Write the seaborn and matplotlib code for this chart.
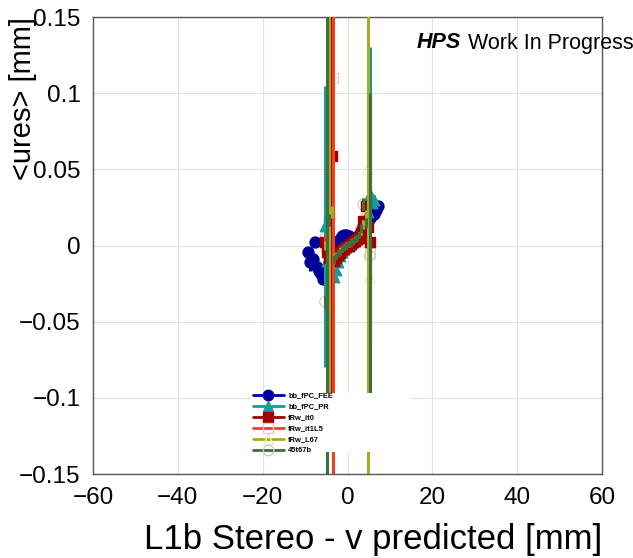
import matplotlib
matplotlib.use("Agg")
import matplotlib.pyplot as plt
from matplotlib.lines import Line2D
from matplotlib.patches import Rectangle
from matplotlib.ticker import MultipleLocator, FuncFormatter
import pandas as pd
import seaborn as sns

# ---- data: profile of <ures> vs predicted v, one entry per bin ----
series_names = ["bb_fPC_FEE", "bb_fPC_PR", "fRw_it0", "fRw_it1L5", "fRw_L67", "45t67b"]

fee_x = [-9.25, -8.75, -8.25, -7.75, -7.25, -6.75, -6.25, -5.75, -5.25, -4.75, -4.25,
         -3.75, -3.25, -2.75, -2.25, -1.75, -1.25, -0.75, -0.25, 0.25, 0.75, 1.25,
         1.75, 2.25, 2.75, 3.25, 3.75, 4.25, 4.75, 5.25, 5.75, 6.25, 6.75, 7.25]
fee_y = [-0.004, -0.011, -0.009, 0.002, -0.014, -0.017, -0.019, -0.022, -0.020, -0.016,
         -0.011, -0.007, -0.004, -0.001, 0.002, 0.004, 0.006, 0.007, 0.007, 0.006, 0.005,
         0.004, 0.004, 0.005, 0.007, 0.009, 0.012, 0.014, 0.016, 0.018, 0.020, 0.021,
         0.023, 0.026]
fee_err = [0.002, 0.006, 0.002, 0.002, 0.002, 0.002, 0.002, 0.003, 0.002, 0.002, 0.002,
           0.002, 0.002, 0.002, 0.002, 0.002, 0.002, 0.002, 0.002, 0.002, 0.002, 0.002,
           0.002, 0.002, 0.002, 0.002, 0.002, 0.002, 0.002, 0.002, 0.002, 0.002, 0.002,
           0.003]

pr_x = [-5.25, -4.75, -4.25, -3.75, -3.25, -2.75, -2.25, -1.75, -1.25, -0.75, -0.25,
        0.25, 0.75, 1.25, 1.75, 2.25, 2.75, 3.25, 3.75, 4.25, 4.75, 5.25, 5.75, 6.25]
pr_y = [0.0125, -0.010, -0.015, -0.019, -0.021, -0.016, -0.011, -0.007, -0.004, -0.002,
        -0.001, 0.000, 0.001, 0.002, 0.003, 0.004, 0.006, 0.009, 0.013, 0.017, 0.022,
        0.034, 0.028, 0.030]
pr_err = [0.0925, 0.003, 0.003, 0.003, 0.003, 0.002, 0.002, 0.002, 0.002, 0.002, 0.002,
          0.002, 0.002, 0.002, 0.002, 0.002, 0.002, 0.002, 0.003, 0.003, 0.003, 0.096,
          0.003, 0.003]

it0_x = [-5.25, -4.75, -4.25, -3.75, -3.25, -2.75, -2.25, -1.75, -1.25, -0.75, -0.25,
         0.25, 0.75, 1.25, 1.75, 2.25, 2.75, 3.25, 3.75, 4.25, 4.75, 5.25]
it0_y = [0.002, -0.004, -0.008, 0.059, -0.010, -0.008, -0.006, -0.005, -0.003, -0.002,
         -0.001, 0.000, 0.001, 0.002, 0.003, 0.004, 0.005, 0.008, 0.016, 0.026, 0.012,
         0.002]
it0_err = [0.003, 0.003, 0.003, 0.160, 0.003, 0.002, 0.002, 0.002, 0.002, 0.002, 0.002,
           0.002, 0.002, 0.002, 0.002, 0.002, 0.002, 0.003, 0.003, 0.004, 0.004, 0.004]

it1l5_x = [-5.25, -4.75, -4.25, -3.5, -2.75, -2.25, -1.75, -1.25, -0.75, -0.25, 0.25,
           0.75, 1.25, 1.75, 2.25, 2.75, 3.25, 3.75, 4.25, 4.75, 5.25]
it1l5_y = [0.004, -0.002, -0.006, 0.110, -0.007, -0.005, -0.004, -0.002, -0.001, 0.000,
           0.001, 0.002, 0.003, 0.004, 0.005, 0.007, 0.010, 0.014, 0.018, 0.002, -0.005]
it1l5_err = [0.003, 0.003, 0.003, 0.300, 0.002, 0.002, 0.002, 0.002, 0.002, 0.002, 0.002,
             0.002, 0.002, 0.002, 0.002, 0.002, 0.003, 0.003, 0.003, 0.004, 0.004]

l67_x = [-5.25, -4.75, -4.25, -3.75, -3.25, -2.75, -2.25, -1.75, -1.25, -0.75, -0.25,
         0.25, 0.75, 1.25, 1.75, 2.25, 2.75, 3.25, 3.75, 4.25, 4.75, 5.25]
l67_y = [0.000, -0.005, 0.100, 0.022, -0.008, -0.006, -0.005, -0.003, -0.002, -0.001,
         0.000, 0.001, 0.002, 0.003, 0.004, 0.005, 0.007, 0.010, 0.014, 0.020, 0.050,
         -0.021]
l67_err = [0.003, 0.003, 0.200, 0.004, 0.003, 0.002, 0.002, 0.002, 0.002, 0.002, 0.002,
           0.002, 0.002, 0.002, 0.002, 0.002, 0.002, 0.003, 0.003, 0.003, 0.250, 0.004]

t67b_x = [-5.25, -4.75, -4.25, -3.25, -2.75, -2.25, -1.75, -1.25, -0.75, -0.25, 0.25,
          0.75, 1.25, 1.75, 2.25, 2.75, 3.25, 3.75, 4.25, 5.25]
t67b_y = [-0.037, 0.000, 0.017, -0.009, -0.007, -0.005, -0.004, -0.002, -0.001, 0.000,
          0.001, 0.002, 0.003, 0.004, 0.005, 0.007, 0.011, 0.027, 0.015, -0.007]
t67b_err = [0.004, 0.300, 0.004, 0.003, 0.002, 0.002, 0.002, 0.002, 0.002, 0.002, 0.002,
            0.002, 0.002, 0.002, 0.002, 0.002, 0.003, 0.004, 0.003, 0.107]

columns = [
    (fee_x, fee_y, fee_err),
    (pr_x, pr_y, pr_err),
    (it0_x, it0_y, it0_err),
    (it1l5_x, it1l5_y, it1l5_err),
    (l67_x, l67_y, l67_err),
    (t67b_x, t67b_y, t67b_err),
]
df = pd.concat(
    [pd.DataFrame({"series": n, "x": x, "y": y, "err": e})
     for n, (x, y, e) in zip(series_names, columns)],
    ignore_index=True,
)

# ---- styling per series ----
line_colors = ["#000099", "#169c9c", "#a00000", "#f2401c", "#aaaa22", "#3d6e3d"]
markers = ["o", "^", "s", "s", "^", "o"]
marker_sizes = [62, 58, 50, 50, 58, 62]
filled = [True, True, True, False, False, False]
marker_edges = ["#000099", "#169c9c", "#a00000", "#f9c4b6", "#e8e8b8", "#c4d0c4"]
# open (pale) markers sit underneath the solid ones
marker_z = [3, 5, 7, 2.6, 2.7, 2.8]

sns.set_theme(style="white")
plt.rcParams["font.family"] = ["Liberation Sans", "DejaVu Sans"]
plt.rcParams["axes.unicode_minus"] = True
plt.rcParams["text.color"] = "black"
plt.rcParams["axes.labelcolor"] = "black"

W, H = 633, 558
fig = plt.figure(figsize=(W / 100, H / 100), dpi=100)
fig.patch.set_facecolor("white")
ax = fig.add_axes([93 / W, 1 - 474 / H, 509 / W, 457 / H])
ax.set_facecolor("white")

for i, name in enumerate(series_names):
    sub = df[df["series"] == name]
    ax.errorbar(sub["x"], sub["y"], yerr=sub["err"], fmt="none",
                ecolor=line_colors[i], elinewidth=2.2, capsize=0, zorder=2 + 2 * i)
    sns.scatterplot(data=sub, x="x", y="y", marker=markers[i], s=marker_sizes[i],
                    color=marker_edges[i], edgecolor=marker_edges[i],
                    linewidth=1.0 if filled[i] else 0.8, ax=ax, zorder=marker_z[i],
                    legend=False)
    if not filled[i]:
        ax.collections[-1].set_facecolor("none")

ax.set_xlim(-60, 60)
ax.set_ylim(-0.15, 0.15)
ax.xaxis.set_major_locator(MultipleLocator(20))
ax.xaxis.set_minor_locator(MultipleLocator(5))
ax.yaxis.set_major_locator(MultipleLocator(0.05))
ax.yaxis.set_minor_locator(MultipleLocator(0.01))


def fmt(v, _pos):
    v = round(v, 4)
    if abs(v) < 1e-9:
        return "0"
    return f"{v:g}".replace("-", "\u2212")


ax.xaxis.set_major_formatter(FuncFormatter(fmt))
ax.yaxis.set_major_formatter(FuncFormatter(fmt))
ax.tick_params(axis="both", which="both", direction="in", top=False, right=False,
               color="#666666", labelcolor="black", labelsize=17.5)
ax.tick_params(axis="both", which="major", length=7, width=0.8)
ax.tick_params(axis="both", which="minor", length=3.5, width=0.8)
ax.tick_params(axis="x", which="major", pad=9)
ax.tick_params(axis="y", which="major", pad=9)
for s in ax.spines.values():
    s.set_color("#555555")
    s.set_linewidth(1.0)
ax.grid(True, which="major", color="#e2e2e2", linewidth=0.8)
ax.set_axisbelow(True)

ax.set_xlabel("L1b Stereo - v predicted [mm]", fontsize=25, ha="right", va="baseline",
              color="black")
ax.xaxis.set_label_coords(1.0, -0.164)
ax.set_ylabel("<ures> [mm]", fontsize=21, rotation=90, rotation_mode="default",
              ha="center", va="top", color="black")
ax.yaxis.set_label_coords(-0.1375, 1.0)

# white legend pad covering the plot area
ax.add_patch(Rectangle((0.3084, 0.048), 0.3144, 0.129, transform=ax.transAxes,
                       facecolor="white", edgecolor="none", zorder=20))

handles = []
for i, name in enumerate(series_names):
    handles.append(Line2D([0], [0], color=line_colors[i], lw=2.0, marker=markers[i],
                          markersize=7.5,
                          markerfacecolor=marker_edges[i] if filled[i] else "none",
                          markeredgecolor=marker_edges[i], markeredgewidth=1.0))
leg = ax.legend(handles, series_names, loc="upper left",
                bbox_to_anchor=(253 / W, 1 - 392 / H), bbox_transform=fig.transFigure,
                frameon=False, borderpad=0, borderaxespad=0, handlelength=4.1,
                handletextpad=0.6, labelspacing=0.5, handleheight=0.7,
                prop={"size": 5.4, "weight": "bold"})
for t in leg.get_texts():
    t.set_color("black")
leg.set_zorder(21)

fig.text(417 / W, 1 - 43 / H, "HPS", fontsize=15.5, fontweight="bold",
         fontstyle="italic", va="center", ha="left", color="black")
fig.text(468 / W, 1 - 43 / H, "Work In Progress", fontsize=15.5, va="center", ha="left",
         color="black")

fig.savefig("out.png", dpi=100)
